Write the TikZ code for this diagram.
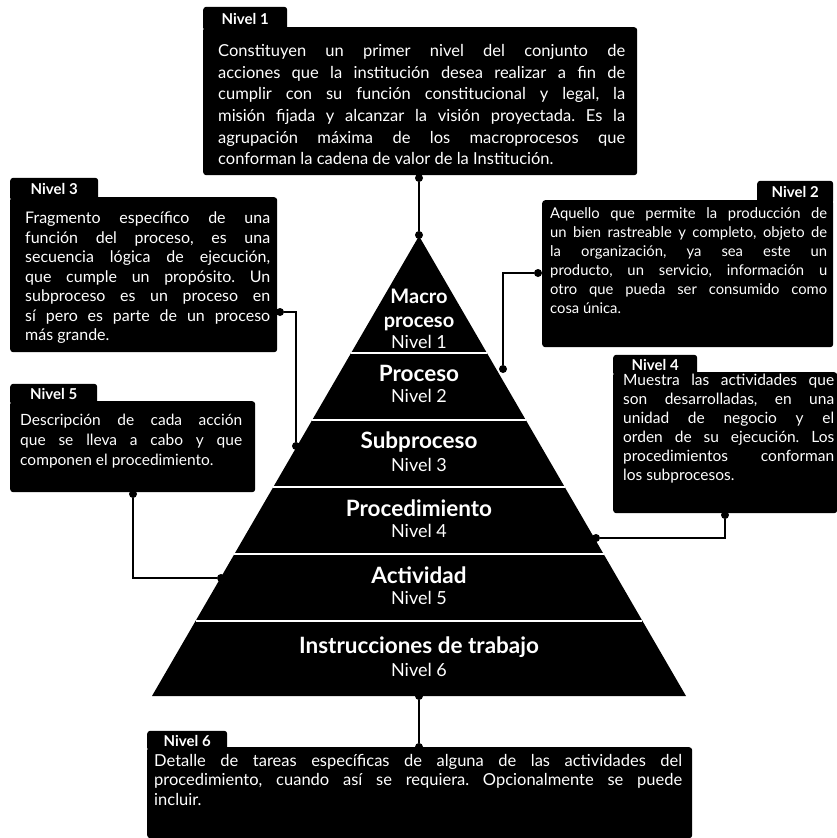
\documentclass[tikz,border=0pt]{standalone}
\usepackage{fontspec}
\setmainfont{Lato}
\frenchspacing
\usetikzlibrary{positioning,calc}
\tikzset{
  boxbody/.style={fill=black, rounded corners=3pt, inner sep=0pt, anchor=north west},
  tabnode/.style={fill=black, text=white, rounded corners=3pt, inner sep=0pt,
    font=\bfseries\fontsize{15}{18}\selectfont, minimum height=24, minimum width=84},
  boxtext/.style={text=white, inner sep=0pt, anchor=north west, align=justify},
  dot/.style={circle, fill=black, inner sep=0pt, minimum size=8},
  link/.style={line width=1.7pt},
  divider/.style={white, line width=1.6pt},
  title/.style={text=white, align=center, font=\bfseries\fontsize{22.5}{26}\selectfont},
  sublabel/.style={text=white, font=\fontsize{18}{20}\selectfont},
}
\begin{document}
\begin{tikzpicture}[x=1pt, y=-1pt]
  \useasboundingbox (0,0) rectangle (837,838);
  % Pyramid
  \coordinate (apex) at (419,236);
  \coordinate (bl) at (152,696);
  \coordinate (br) at (686,696);
  \fill (apex) -- (bl) -- (br) -- cycle;
  \foreach \y in {353,420,487,554,621} {
    \pgfmathsetmacro\t{(\y-236)/460}
    \draw[divider] ($(apex)!\t!(bl)$) -- ($(apex)!\t!(br)$);
  }
  % Levels
  \node[title, font=\bfseries\fontsize{20}{24}\selectfont] (t1) at (419,310) {Macro\\proceso};
  \node[sublabel] (s1) at (419,342) {Nivel 1};
  \foreach \y/\name/\n in {373/Proceso/2, 442/Subproceso/3, 508/Procedimiento/4,
      575/Actividad/5, 647/Instrucciones de trabajo/6} {
    \node[title] (t\n) at (419,\y) {\name};
    \node[sublabel] (s\n) at (419,\y+23) {Nivel \n};
  }

  % Nivel 1
  \node[boxbody, minimum width=434, minimum height=148] (b1) at (203,27) {};
  \node[tabnode, anchor=south west] (tab1) at ([yshift=-4pt]b1.north west) {Nivel 1};
  \node[boxtext, text width=407, font=\fontsize{16.5}{21.7}\selectfont] (x1) at (218,44)
    {Constituyen un primer nivel del conjunto de\linebreak
     acciones que la institución desea realizar a fin de\linebreak
     cumplir con su función constitucional y legal, la\linebreak
     misión fijada y alcanzar la visión proyectada. Es la\linebreak
     agrupación máxima de los macroprocesos que\linebreak
     conforman la cadena de valor de la Institución.};

  % Nivel 3
  \node[boxbody, minimum width=267, minimum height=155] (b3) at (10,197) {};
  \node[tabnode, anchor=south west, minimum width=88, minimum height=23] (tab3) at ([yshift=-4pt]b3.north west) {Nivel 3};
  \node[boxtext, text width=245, font=\fontsize{16}{19.5}\selectfont] (x3) at (25,212)
    {Fragmento específico de una\linebreak
     función del proceso, es una\linebreak
     secuencia lógica de ejecución,\linebreak
     que cumple un propósito. Un\linebreak
     subproceso es un proceso en\linebreak
     sí pero es parte de un proceso\linebreak
     más grande.};

  % Nivel 2
  \node[boxbody, minimum width=291, minimum height=147] (b2) at (542,200) {};
  \node[tabnode, anchor=south east, minimum width=76, minimum height=23] (tab2) at ([yshift=-4pt]b2.north east) {Nivel 2};
  \node[boxtext, text width=277, font=\fontsize{14.8}{19}\selectfont] (x2) at (550,207)
    {Aquello que permite la producción de\linebreak
     un bien rastreable y completo, objeto de\linebreak
     la organización, ya sea este un\linebreak
     producto, un servicio, información u\linebreak
     otro que pueda ser consumido como\linebreak
     cosa única.};

  % Nivel 4
  \node[boxbody, minimum width=224, minimum height=141] (b4) at (613,372) {};
  \node[tabnode, anchor=south west, minimum height=21] (tab4) at ([yshift=-4pt]b4.north west) {Nivel 4};
  \node[boxtext, text width=211, font=\fontsize{15.5}{19}\selectfont] (x4) at (623,374)
    {Muestra las actividades que\linebreak
     son desarrolladas, en una\linebreak
     unidad de negocio y el\linebreak
     orden de su ejecución. Los\linebreak
     procedimientos conforman\linebreak
     los subprocesos.};

  % Nivel 5
  \node[boxbody, minimum width=245, minimum height=91] (b5) at (10,401) {};
  \node[tabnode, anchor=south west, minimum width=87, minimum height=21] (tab5) at ([yshift=-4pt]b5.north west) {Nivel 5};
  \node[boxtext, text width=222, font=\fontsize{15.5}{20}\selectfont] (x5) at (20,414)
    {Descripción de cada acción\linebreak
     que se lleva a cabo y que\linebreak
     componen el procedimiento.};

  % Nivel 6
  \node[boxbody, minimum width=545, minimum height=91] (b6) at (147,747) {};
  \node[tabnode, anchor=south west, minimum width=80, minimum height=20] (tab6) at ([yshift=-4pt]b6.north west) {Nivel 6};
  \node[boxtext, text width=528, font=\fontsize{16.5}{19.5}\selectfont] (x6) at (154,754)
    {Detalle de tareas específicas de alguna de las actividades del\linebreak
     procedimiento, cuando así se requiera. Opcionalmente se puede\linebreak
     incluir.};

  % Connectors
  \node[dot] (d1a) at (419,178) {};
  \node[dot] (d1b) at (419,235) {};
  \draw[link] (d1a) -- (d1b);
  \node[dot] (d2a) at (538,273) {};
  \node[dot] (d2b) at (503,369) {};
  \draw[link] (d2a) -| (d2b);
  \node[dot] (d3a) at (280,312) {};
  \node[dot] (d3b) at (296,446) {};
  \draw[link] (d3a) -| (d3b);
  \node[dot] (d4a) at (725,515) {};
  \node[dot] (d4b) at (596,538) {};
  \draw[link] (d4a) |- (d4b);
  \node[dot] (d5a) at (133,494) {};
  \node[dot] (d5b) at (221,578) {};
  \draw[link] (d5a) |- (d5b);
  \node[dot] (d6a) at (419,696) {};
  \node[dot] (d6b) at (419,747) {};
  \draw[link] (d6a) -- (d6b);
\end{tikzpicture}
\end{document}
